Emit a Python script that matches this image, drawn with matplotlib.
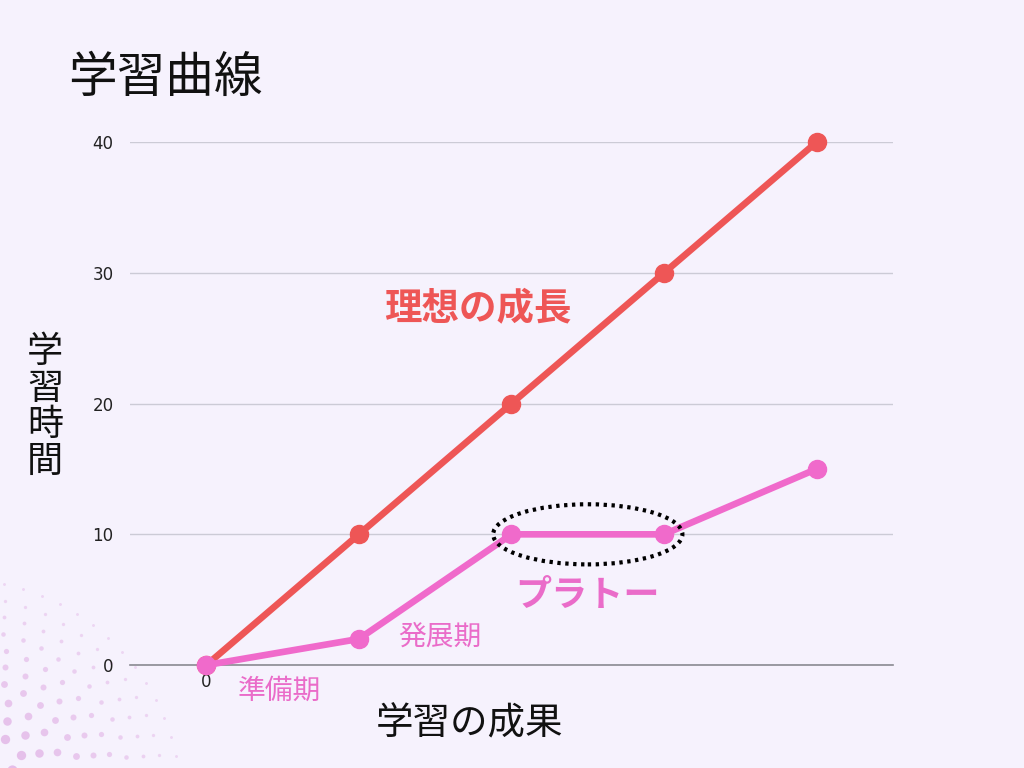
import matplotlib
matplotlib.use("Agg")
import matplotlib.pyplot as plt
from matplotlib.patches import Ellipse
import numpy as np

plt.rcParams['font.family'] = ['Noto Sans CJK JP', 'DejaVu Sans']

# data
stages = [0, 1, 2, 3, 4]
ideal = [0, 10, 20, 30, 40]
actual = [0, 2, 10, 10, 15]
yticks = [0, 10, 20, 30, 40]
title = "学習曲線"
xlabel = "学習の成果"
ylabel = "学習時間"

bg = "#f6f2fd"
red = "#ee5656"
pink = "#f06acb"
pink_txt = "#ea6cc9"

fig = plt.figure(figsize=(10.24, 7.68), dpi=100, facecolor=bg)

# decorative dots (bottom-left)
deco = fig.add_axes([0, 0, 1, 1], zorder=0)
deco.set_xlim(0, 1024); deco.set_ylim(768, 0); deco.axis('off')
cx, cy = -40, 800
for k, r in enumerate(np.arange(60, 235, 16)):
    n = int(np.pi / 2 * r / 19)
    ang = np.linspace(0.02, np.pi / 2 - 0.02, n)
    xs = cx + r * np.cos(ang)
    ys = cy - r * np.sin(ang)
    frac = (r - 60) / 175
    s = 50 * (1 - frac) ** 2 + 4
    deco.scatter(xs, ys, s=s, color="#e2b4e6", alpha=0.85 - 0.45 * frac, lw=0)

ax = fig.add_axes([0.127, 0.134, 0.745, 0.681], zorder=1)
ax.set_facecolor('none')
ax.set_xlim(-0.5, 4.5)
ax.set_ylim(0, 40)

ax.plot(stages, ideal, color=red, lw=4.8, marker='o', ms=13, clip_on=False, zorder=3)
ax.plot(stages, actual, color=pink, lw=4.8, marker='o', ms=13, clip_on=False, zorder=4)

ax.add_patch(Ellipse((2.5, 10), 1.24, 4.6, fill=False, ec='black', lw=3,
                     ls=(0, (0.8, 1.1)), zorder=5))

for s in ['top', 'right', 'left']:
    ax.spines[s].set_visible(False)
ax.spines['bottom'].set_color('#8a8a92')
ax.spines['bottom'].set_linewidth(1.2)
ax.set_yticks(yticks)
ax.set_yticklabels([str(v) for v in yticks], family='DejaVu Sans')
ax.set_xticks([0])
ax.set_xticklabels(['0'], family='DejaVu Sans')
ax.tick_params(axis='both', length=0, labelsize=12, colors='#222222', pad=12)
ax.tick_params(axis='x', pad=6)
ax.yaxis.grid(True, color='#cccbd6', lw=1)
ax.set_axisbelow(True)

fig.text(68 / 1024, 1 - 78 / 768, title, fontsize=35, va='center', ha='left', color='#111111')
fig.text(470 / 1024, 1 - 724 / 768, xlabel, fontsize=27, va='center', ha='center', color='#111111')
fig.text(45 / 1024, 1 - 407 / 768, "\n".join(ylabel), fontsize=26, va='center', ha='center',
         linespacing=1.02, color='#111111')

ax.text(2.0 - 0.22, 27.3, "理想の成長", fontsize=27, fontweight='bold', color=red, ha='center', va='center')
ax.text(2.5, 5.3, "プラトー", fontsize=26, fontweight='bold', color=pink_txt, ha='center', va='center')
ax.text(1.53, 2.2, "発展期", fontsize=20, color=pink_txt, ha='center', va='center')
ax.text(0.48, -2.0, "準備期", fontsize=20, color=pink_txt, ha='center', va='center')

fig.savefig("out.png", dpi=100, facecolor=bg)
